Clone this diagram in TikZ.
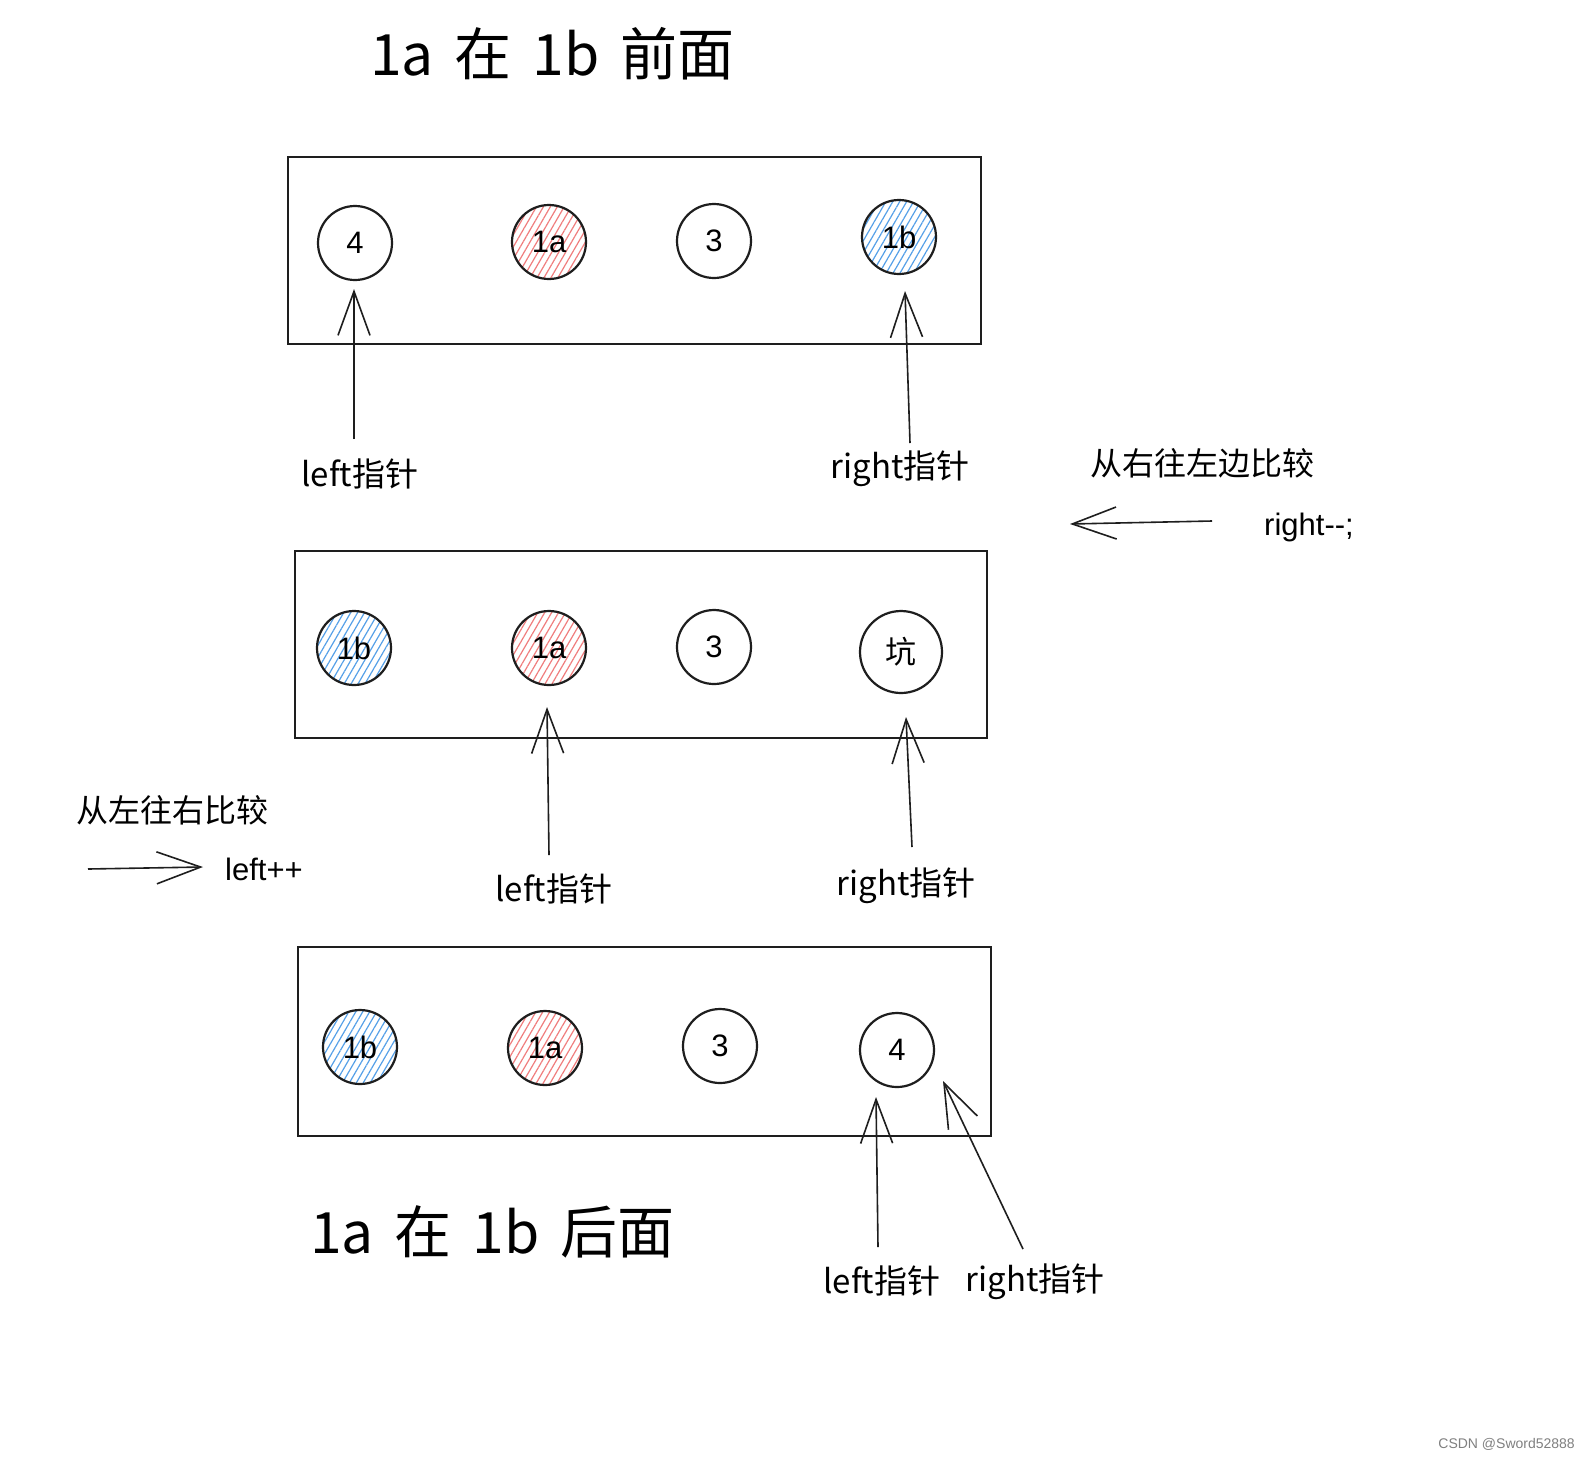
\documentclass[tikz,border=0pt]{standalone}
\usepackage{fontspec}
\setmainfont{Liberation Sans}
\newfontfamily\cjk{Noto Sans CJK SC}
\usetikzlibrary{arrows.meta,patterns.meta}
\definecolor{ink}{HTML}{1E1E1E}
\definecolor{hred}{RGB}{240,125,125}
\definecolor{hblue}{RGB}{85,160,232}
\tikzset{
  frame/.style={draw=ink,line width=2pt},
  ball/.style={circle,draw=ink,line width=2.2pt,minimum size=74pt,inner sep=0pt,font=\fontsize{31}{31}\selectfont},
  redball/.style={ball,pattern={Lines[angle=60,distance=6pt,line width=1.2pt]},pattern color=hred},
  blueball/.style={ball,pattern={Lines[angle=60,distance=6pt,line width=1.2pt]},pattern color=hblue},
  ptr/.style={draw=ink,line width=1.6pt,-{Straight Barb[length=44pt,width=32pt]}},
  lbl/.style={font=\cjk\fontsize{33}{33}\selectfont,inner sep=0pt},
  bigtitle/.style={font=\cjk\fontsize{57}{57}\selectfont,anchor=west,inner sep=0pt},
  note/.style={font=\cjk\fontsize{32}{32}\selectfont,inner sep=0pt},
  code/.style={font=\fontsize{31}{31}\selectfont,inner sep=0pt},
}
\begin{document}
\begin{tikzpicture}[x=1pt,y=-1pt]
\useasboundingbox[fill=white] (0,0) rectangle (1590,1460);

% titles
\node[bigtitle] (t1) at (370,54) {1a\hspace{21pt}在\hspace{21pt}1b\hspace{21pt}前面};
\node[bigtitle] (t2) at (310,1232) {1a\hspace{21pt}在\hspace{21pt}1b\hspace{21pt}后面};

% box 1
\draw[frame] (288,157) rectangle (981,344);
\node[ball]     (a4) at (355,243) {4};
\node[redball]  (a1a) at (549,242) {1a};
\node[ball]     (a3) at (714,241) {3};
\node[blueball] (a1b) at (899,237) {1b};
\coordinate (pa1) at (354,439);
\coordinate (pa1t) at (354,289);
\coordinate (pa2) at (910,443);
\coordinate (pa2t) at (905,291);
\draw[ptr] (pa1) -- (pa1t);
\draw[ptr] (pa2) -- (pa2t);
\node[lbl] (la1) at (360,474) {left指针};
\node[lbl] (la2) at (900,469) {right指针};

% right to left note
\node[note] (n1) at (1202,463) {从右往左边比较};
\coordinate (r1s) at (1212,521);
\coordinate (r1e) at (1070,524);
\draw[ptr] (r1s) -- (r1e);
\node[code,anchor=west] (c1) at (1264,527) {right{-}{-};};

% box 2
\draw[frame] (295,551) rectangle (987,738);
\node[blueball] (b1b) at (354,648) {1b};
\node[redball]  (b1a) at (549,648) {1a};
\node[ball]     (b3) at (714,647) {3};
\node[ball,minimum size=82pt] (bk) at (901,652) {\cjk 坑};
\coordinate (pb1) at (549,855);
\coordinate (pb1t) at (547,707);
\coordinate (pb2) at (912,847);
\coordinate (pb2t) at (906,717);
\draw[ptr] (pb1) -- (pb1t);
\draw[ptr] (pb2) -- (pb2t);
\node[lbl] (lb1) at (554,889) {left指针};
\node[lbl] (lb2) at (906,886) {right指针};

% left to right note
\node[note,anchor=west] (n2) at (76,810) {从左往右比较};
\coordinate (r2s) at (88,869);
\coordinate (r2e) at (203,867);
\draw[ptr] (r2s) -- (r2e);
\node[code,anchor=west] (c2) at (225,869) {left++};

% box 3
\draw[frame] (298,947) rectangle (991,1136);
\node[blueball] (c1b) at (360,1047) {1b};
\node[redball]  (c1a) at (545,1048) {1a};
\node[ball]     (c3) at (720,1046) {3};
\node[ball]     (c4) at (897,1050) {4};
\coordinate (pc1) at (878,1247);
\coordinate (pc1t) at (876,1097);
\coordinate (pc2) at (1023,1249);
\coordinate (pc2t) at (943,1081);
\draw[ptr] (pc1) -- (pc1t);
\draw[ptr] (pc2) -- (pc2t);
\node[lbl] (lc1) at (882,1281) {left指针};
\node[lbl] (lc2) at (1035,1282) {right指针};

% watermark
\node[font=\fontsize{14}{14}\selectfont,text=gray,inner sep=0pt,anchor=east] (wm) at (1575,1444) {CSDN @Sword52888};
\end{tikzpicture}
\end{document}
